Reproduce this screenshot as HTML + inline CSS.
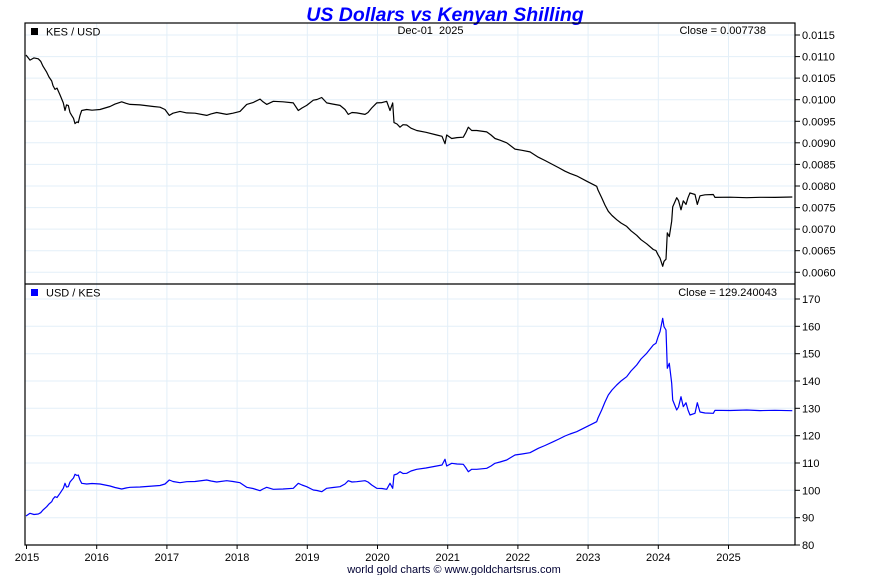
<!DOCTYPE html>
<html><head><meta charset="utf-8"><style>
html,body{margin:0;padding:0;background:#fff;}
svg{display:block;font-family:"Liberation Sans",Arial,sans-serif;}
</style></head><body>
<svg width="890" height="575" viewBox="0 0 890 575" xmlns="http://www.w3.org/2000/svg">
<rect x="0" y="0" width="890" height="575" fill="#fff"/>
<text x="445" y="21" text-anchor="middle" font-size="19.5" font-weight="bold" font-style="italic" fill="#0000ff">US Dollars vs Kenyan Shilling</text>
<g stroke="#e3eff8" stroke-width="1">
<line x1="96.7" y1="23" x2="96.7" y2="545"/><line x1="166.9" y1="23" x2="166.9" y2="545"/><line x1="237.1" y1="23" x2="237.1" y2="545"/><line x1="307.3" y1="23" x2="307.3" y2="545"/><line x1="377.5" y1="23" x2="377.5" y2="545"/><line x1="447.7" y1="23" x2="447.7" y2="545"/><line x1="517.9" y1="23" x2="517.9" y2="545"/><line x1="588.1" y1="23" x2="588.1" y2="545"/><line x1="658.3" y1="23" x2="658.3" y2="545"/><line x1="728.5" y1="23" x2="728.5" y2="545"/>
<line x1="25" y1="35" x2="795" y2="35"/><line x1="25" y1="56.6" x2="795" y2="56.6"/><line x1="25" y1="78.1" x2="795" y2="78.1"/><line x1="25" y1="99.7" x2="795" y2="99.7"/><line x1="25" y1="121.3" x2="795" y2="121.3"/><line x1="25" y1="142.8" x2="795" y2="142.8"/><line x1="25" y1="164.4" x2="795" y2="164.4"/><line x1="25" y1="186" x2="795" y2="186"/><line x1="25" y1="207.6" x2="795" y2="207.6"/><line x1="25" y1="229.1" x2="795" y2="229.1"/><line x1="25" y1="250.7" x2="795" y2="250.7"/><line x1="25" y1="272.3" x2="795" y2="272.3"/>
<line x1="25" y1="299" x2="795" y2="299"/><line x1="25" y1="326.3" x2="795" y2="326.3"/><line x1="25" y1="353.7" x2="795" y2="353.7"/><line x1="25" y1="381" x2="795" y2="381"/><line x1="25" y1="408.3" x2="795" y2="408.3"/><line x1="25" y1="435.7" x2="795" y2="435.7"/><line x1="25" y1="463" x2="795" y2="463"/><line x1="25" y1="490.3" x2="795" y2="490.3"/><line x1="25" y1="517.7" x2="795" y2="517.7"/>
</g>
<path fill="none" stroke="#000" stroke-width="1.2" stroke-linejoin="round" d="M26,55 L30,60.1 L34,57.9 L38.3,58.8 L40.7,61.3 L43,66.2 L46.7,72.2 L49,77 L51.7,81 L53,85.6 L55,89.4 L57,88.1 L60,94.9 L63.3,102.9 L65,110.5 L66.5,104.9 L68.3,105.4 L70,112.5 L71.7,115.4 L73.5,118.3 L75,123.6 L77,121.9 L78.3,122.6 L80,115.4 L81.7,110.5 L86.7,109.5 L92,110.2 L100,109.5 L105,108 L110,106.5 L115,104.1 L121.7,101.8 L126,103.3 L130,104.4 L140,104.9 L153.3,106.5 L160,107.2 L165,109.5 L169.3,115.4 L173,113.2 L180,111.4 L186.7,112.9 L195,113.2 L206.7,115.4 L211,113.9 L216.7,112.5 L226.7,114.4 L233,113.2 L240,111.4 L246.7,104.4 L253,102.6 L260,99.1 L263,101.8 L266.7,104.4 L273.3,101.3 L283,101.8 L293.3,102.9 L298.3,110.5 L302,108 L306.7,105.4 L313.3,100.2 L317,99.5 L321.7,97.5 L326.7,102.9 L333,104.1 L340,105.4 L345,109.5 L348.3,114.4 L352,112.5 L356.7,112.9 L365,114.4 L368,112.5 L371.7,108 L376.7,102.9 L382,102.6 L386.7,101.3 L390,110.5 L392.7,102.9 L394,122.6 L397,124 L400,127.2 L403,124.7 L406.7,125 L411,128.2 L416.7,130.5 L426,132.3 L436.7,135 L442,136.3 L445,143.7 L446.7,135 L451.7,138.5 L457,137.6 L463.3,137.2 L466,132.3 L468.3,127.2 L471.7,130.5 L476.7,130.5 L486.7,131.9 L491,135 L495,138.5 L500,140.2 L506.7,142.8 L515,149.1 L522,150.3 L530,151.9 L538.3,157.2 L545,160.5 L553.3,164.9 L559,167.9 L565,171.2 L570,173.4 L576.7,175.9 L586.7,181.2 L596.7,186.3 L598,190 L601.7,197.7 L605,205.1 L608.3,211.3 L612,215.5 L616.7,219.7 L621,223 L626.7,226.4 L631,230.8 L636.7,235.3 L641,239.7 L646.7,243.8 L653.3,249.5 L656,250.6 L658,254.7 L660,258.1 L662.7,266.3 L664,261.3 L666,259.2 L667.3,232.9 L669.3,236.6 L671.7,221.1 L672.7,206.9 L676.7,197.7 L678.5,200.5 L681,209.8 L683.3,200.8 L686,204.4 L688,197.7 L690,192.9 L695,194.5 L697.3,204.4 L700,195.8 L705,194.8 L713.3,194.5 L715,197.4 L730,197.2 L746.7,197.7 L760,197.3 L775,197.4 L792.3,197"/>
<path fill="none" stroke="#0000ff" stroke-width="1.2" stroke-linejoin="round" d="M26,516 L30,513.3 L34,514.5 L38.3,514 L40.7,512.7 L43,510 L46.7,506.7 L49,504 L51.7,501.7 L53,499 L55,496.7 L57,497.5 L60,493.3 L63.3,488.3 L65,483.3 L66.5,487 L68.3,486.7 L70,482 L71.7,480 L73.5,478 L75,474.3 L77,475.5 L78.3,475 L80,480 L81.7,483.3 L86.7,484 L92,483.5 L100,484 L105,485 L110,486 L115,487.5 L121.7,489 L126,488 L130,487.3 L140,487 L153.3,486 L160,485.5 L165,484 L169.3,480 L173,481.5 L180,482.7 L186.7,481.7 L195,481.5 L206.7,480 L211,481 L216.7,482 L226.7,480.7 L233,481.5 L240,482.7 L246.7,487.3 L253,488.5 L260,490.7 L263,489 L266.7,487.3 L273.3,489.3 L283,489 L293.3,488.3 L298.3,483.3 L302,485 L306.7,486.7 L313.3,490 L317,490.5 L321.7,491.7 L326.7,488.3 L333,487.5 L340,486.7 L345,484 L348.3,480.7 L352,482 L356.7,481.7 L365,480.7 L368,482 L371.7,485 L376.7,488.3 L382,488.5 L386.7,489.3 L390,483.3 L392.7,488.3 L394,475 L397,474 L400,471.7 L403,473.5 L406.7,473.3 L411,471 L416.7,469.3 L426,468 L436.7,466 L442,465 L445,459.3 L446.7,466 L451.7,463.3 L457,464 L463.3,464.3 L466,468 L468.3,471.7 L471.7,469.3 L476.7,469.3 L486.7,468.3 L491,466 L495,463.3 L500,462 L506.7,460 L515,455 L522,454 L530,452.7 L538.3,448.3 L545,445.5 L553.3,441.7 L559,439 L565,436 L570,434 L576.7,431.7 L586.7,426.7 L596.7,421.7 L598,418 L601.7,410 L605,402 L608.3,395 L612,390 L616.7,385 L621,381 L626.7,376.7 L631,371 L636.7,365 L641,359 L646.7,353.3 L653.3,345 L656,343.3 L658,337 L660,331.7 L662.7,318.3 L664,326.7 L666,330 L667.3,368.3 L669.3,363.3 L671.7,383.3 L672.7,400 L676.7,410 L678.5,407 L681,396.7 L683.3,406.7 L686,402.7 L688,410 L690,415 L695,413.3 L697.3,402.7 L700,412 L705,413 L713.3,413.3 L715,410.3 L730,410.5 L746.7,410 L760,410.6 L775,410.3 L792.3,410.7"/>
<g stroke="#000" stroke-width="1.2" fill="none">
<rect x="25" y="23" width="770" height="522"/>
<line x1="25" y1="284" x2="795" y2="284"/>
</g>
<g stroke="#000" stroke-width="1">
<line x1="795" y1="35" x2="800" y2="35"/><line x1="795" y1="56.6" x2="800" y2="56.6"/><line x1="795" y1="78.1" x2="800" y2="78.1"/><line x1="795" y1="99.7" x2="800" y2="99.7"/><line x1="795" y1="121.3" x2="800" y2="121.3"/><line x1="795" y1="142.8" x2="800" y2="142.8"/><line x1="795" y1="164.4" x2="800" y2="164.4"/><line x1="795" y1="186" x2="800" y2="186"/><line x1="795" y1="207.6" x2="800" y2="207.6"/><line x1="795" y1="229.1" x2="800" y2="229.1"/><line x1="795" y1="250.7" x2="800" y2="250.7"/><line x1="795" y1="272.3" x2="800" y2="272.3"/>
<line x1="795" y1="299" x2="800" y2="299"/><line x1="795" y1="326.3" x2="800" y2="326.3"/><line x1="795" y1="353.7" x2="800" y2="353.7"/><line x1="795" y1="381" x2="800" y2="381"/><line x1="795" y1="408.3" x2="800" y2="408.3"/><line x1="795" y1="435.7" x2="800" y2="435.7"/><line x1="795" y1="463" x2="800" y2="463"/><line x1="795" y1="490.3" x2="800" y2="490.3"/><line x1="795" y1="517.7" x2="800" y2="517.7"/><line x1="795" y1="545" x2="800" y2="545"/>
<line x1="26.5" y1="545" x2="26.5" y2="549"/><line x1="96.7" y1="545" x2="96.7" y2="549"/><line x1="166.9" y1="545" x2="166.9" y2="549"/><line x1="237.1" y1="545" x2="237.1" y2="549"/><line x1="307.3" y1="545" x2="307.3" y2="549"/><line x1="377.5" y1="545" x2="377.5" y2="549"/><line x1="447.7" y1="545" x2="447.7" y2="549"/><line x1="517.9" y1="545" x2="517.9" y2="549"/><line x1="588.1" y1="545" x2="588.1" y2="549"/><line x1="658.3" y1="545" x2="658.3" y2="549"/><line x1="728.5" y1="545" x2="728.5" y2="549"/>
</g>
<g font-size="11" fill="#000">
<text x="802" y="39">0.0115</text><text x="802" y="60.6">0.0110</text><text x="802" y="82.1">0.0105</text><text x="802" y="103.7">0.0100</text><text x="802" y="125.3">0.0095</text><text x="802" y="146.8">0.0090</text><text x="802" y="168.4">0.0085</text><text x="802" y="190">0.0080</text><text x="802" y="211.6">0.0075</text><text x="802" y="233.1">0.0070</text><text x="802" y="254.7">0.0065</text><text x="802" y="276.3">0.0060</text>
<text x="802" y="303">170</text><text x="802" y="330.3">160</text><text x="802" y="357.7">150</text><text x="802" y="385">140</text><text x="802" y="412.3">130</text><text x="802" y="439.7">120</text><text x="802" y="467">110</text><text x="802" y="494.3">100</text><text x="802" y="521.7">90</text><text x="802" y="549">80</text>
</g>
<g font-size="11" fill="#000" text-anchor="middle">
<text x="27" y="561">2015</text><text x="96.7" y="561">2016</text><text x="166.9" y="561">2017</text><text x="237.1" y="561">2018</text><text x="307.3" y="561">2019</text><text x="377.5" y="561">2020</text><text x="447.7" y="561">2021</text><text x="517.9" y="561">2022</text><text x="588.1" y="561">2023</text><text x="658.3" y="561">2024</text><text x="728.5" y="561">2025</text>
</g>
<rect x="31" y="28" width="7" height="7" fill="#000"/>
<text x="46" y="35.5" font-size="11" fill="#000">KES / USD</text>
<rect x="31" y="289" width="7" height="7" fill="#0000ff"/>
<text x="46" y="296.5" font-size="11" fill="#000">USD / KES</text>
<text x="430.5" y="34" font-size="11" fill="#000" text-anchor="middle" xml:space="preserve">Dec-01  2025</text>
<text x="766" y="34" font-size="11" fill="#000" text-anchor="end">Close = 0.007738</text>
<text x="777" y="296" font-size="11" fill="#000" text-anchor="end">Close = 129.240043</text>
<text x="454" y="573" font-size="11" fill="#000033" text-anchor="middle">world gold charts © www.goldchartsrus.com</text>
</svg>
</body></html>
